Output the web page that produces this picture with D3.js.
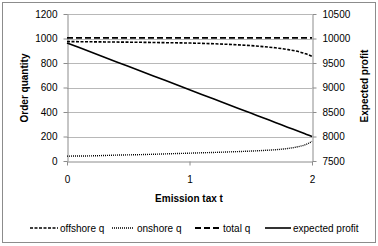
<!DOCTYPE html>
<html>
<head>
<meta charset="utf-8">
<script src="https://cdn.jsdelivr.net/npm/d3@7"></script>
<style>
  body { margin: 0; background: #fff; }
  text { font-family: "Liberation Sans", Arial, sans-serif; fill: #000; }
</style>
</head>
<body>
<div class="canvas"></div>
<script>
// data
const taxT = [0, 0.2, 0.4, 0.6, 0.8, 1.0, 1.2, 1.4, 1.5, 1.6, 1.7, 1.8, 1.9, 1.95, 2.0];
const offshoreQ = [975, 973, 971, 969, 966, 963, 957, 948, 942, 934, 924, 910, 890, 875, 855];
const onshoreQ = [40, 42, 48, 52, 58, 64, 70, 77, 81, 86, 92, 102, 120, 135, 160];
const totalQ = [1005, 1005, 1005, 1005, 1005, 1005, 1005, 1005, 1005, 1005, 1005, 1005, 1005, 1005, 1005];
const expectedProfit = [9910, 9719, 9528, 9337, 9146, 8955, 8764, 8573, 8478, 8382, 8287, 8191, 8096, 8048, 8000];

const leftTicks = [0, 200, 400, 600, 800, 1000, 1200];
const rightTicks = [7500, 8000, 8500, 9000, 9500, 10000, 10500];
const xTicks = [0, 1, 2];

const dims = { width: 378, height: 246 };
const plot = { left: 67, right: 312, top: 14, bottom: 161 };

const svg = d3
  .select(".canvas")
  .append("svg")
  .attr("width", dims.width)
  .attr("height", dims.height);

// outer frame
svg.append("rect")
  .attr("x", 2.5).attr("y", 2.5)
  .attr("width", 373).attr("height", 240)
  .attr("fill", "none")
  .attr("stroke", "#8c8c8c");

const x = d3.scaleLinear().domain([0, 2]).range([plot.left, plot.right]);
const yL = d3.scaleLinear().domain([0, 1200]).range([plot.bottom, plot.top]);
const yR = d3.scaleLinear().domain([7500, 10500]).range([plot.bottom, plot.top]);

// gridlines
svg.append("g")
  .selectAll("line")
  .data(leftTicks.slice(1))
  .join("line")
  .attr("x1", plot.left).attr("x2", plot.right)
  .attr("y1", (d) => Math.round(yL(d)) + 0.5)
  .attr("y2", (d) => Math.round(yL(d)) + 0.5)
  .attr("stroke", "#b8b8b8");

// axes
const axisStyle = (g) => {
  g.select(".domain").attr("stroke", "#8c8c8c");
  g.selectAll(".tick line").attr("stroke", "#8c8c8c");
  g.selectAll(".tick text")
    .style("font-family", "'Liberation Sans', Arial, sans-serif")
    .style("font-size", "10px")
    .attr("fill", "#000");
};

svg.append("g")
  .attr("transform", `translate(${plot.left + 0.5},0)`)
  .call(d3.axisLeft(yL).tickValues(leftTicks).tickFormat(d3.format("d")).tickSize(4).tickSizeOuter(0).tickPadding(6))
  .call(axisStyle);

svg.append("g")
  .attr("transform", `translate(${plot.right + 0.5},0)`)
  .call(d3.axisRight(yR).tickValues(rightTicks).tickFormat(d3.format("d")).tickSize(4).tickSizeOuter(0).tickPadding(6))
  .call(axisStyle);

svg.append("g")
  .attr("transform", `translate(0,${plot.bottom + 0.5})`)
  .call(d3.axisBottom(x).tickValues(xTicks).tickFormat(d3.format("d")).tickSize(4).tickSizeOuter(0).tickPadding(10))
  .call(axisStyle);

// axis titles
svg.append("text")
  .attr("x", 189).attr("y", 202)
  .attr("text-anchor", "middle")
  .style("font-size", "10px").style("font-weight", "bold")
  .text("Emission tax t");

svg.append("text")
  .attr("transform", `translate(28,88) rotate(-90)`)
  .attr("text-anchor", "middle")
  .style("font-size", "10px").style("font-weight", "bold")
  .text("Order quantity");

svg.append("text")
  .attr("transform", `translate(368,86) rotate(-90)`)
  .attr("text-anchor", "middle")
  .style("font-size", "10px").style("font-weight", "bold")
  .text("Expected profit");

// series
const series = [
  { name: "offshore q", values: offshoreQ, scale: yL, dash: "3,1.5", width: 1.6 },
  { name: "onshore q", values: onshoreQ, scale: yL, dash: "1,1", width: 1.4 },
  { name: "total q", values: totalQ, scale: yL, dash: "6,3", width: 1.8 },
  { name: "expected profit", values: expectedProfit, scale: yR, dash: null, width: 1.6 },
];

series.forEach((s) => {
  const line = d3.line()
    .x((d, i) => x(taxT[i]))
    .y((d) => s.scale(d))
    .curve(d3.curveMonotoneX);
  svg.append("path")
    .datum(s.values)
    .attr("d", line)
    .attr("fill", "none")
    .attr("stroke", "#000")
    .attr("stroke-width", s.width)
    .attr("stroke-dasharray", s.dash);
});

// legend
const legendPos = [
  { x1: 30, x2: 58, tx: 60 },
  { x1: 112, x2: 134, tx: 137 },
  { x1: 195, x2: 222, tx: 223 },
  { x1: 265, x2: 291, tx: 293 },
];

const legend = svg.append("g");
series.forEach((s, i) => {
  const p = legendPos[i];
  legend.append("line")
    .attr("x1", p.x1).attr("x2", p.x2)
    .attr("y1", 228).attr("y2", 228)
    .attr("stroke", "#000")
    .attr("stroke-width", s.width)
    .attr("stroke-dasharray", s.dash);
  legend.append("text")
    .attr("x", p.tx).attr("y", 231.5)
    .style("font-size", "10px")
    .text(s.name);
});
</script>
</body>
</html>
